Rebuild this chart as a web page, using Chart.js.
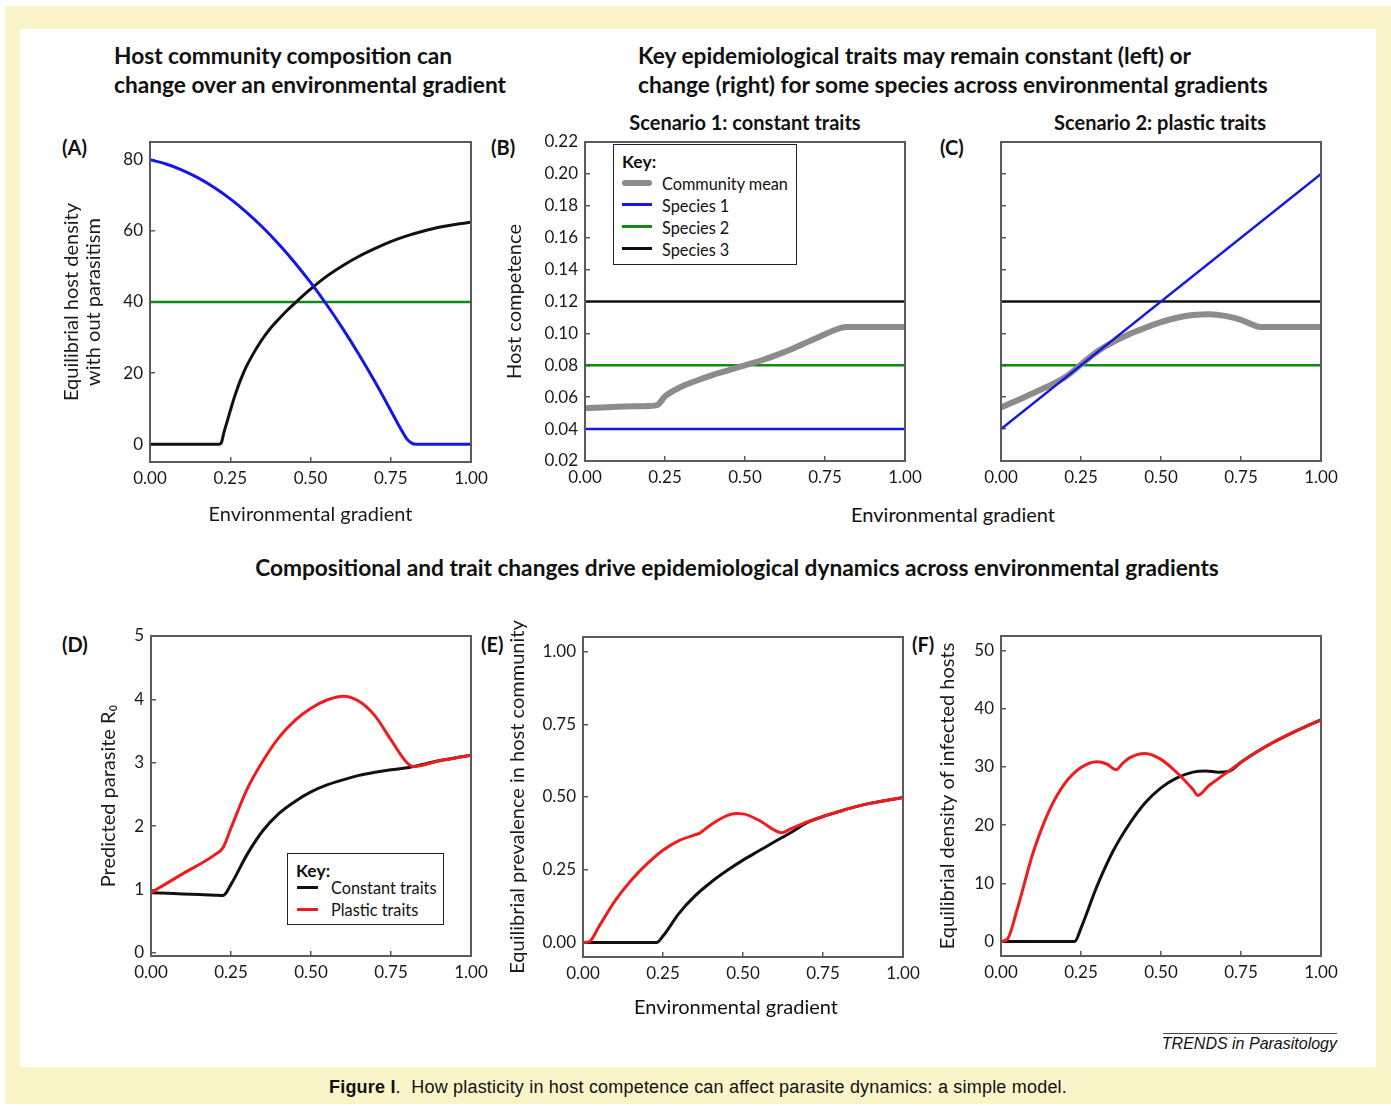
<!DOCTYPE html>
<html>
<head>
<meta charset="utf-8">
<title>Host competence plasticity</title>
<script src="https://cdn.jsdelivr.net/npm/chart.js@4.4.1/dist/chart.umd.min.js"></script>
<style>
    html, body { margin: 0; padding: 0; background: #fff; }
    #page { position: relative; width: 1391px; height: 1106px; overflow: hidden; font-family: Lato, "Open Sans", sans-serif; color: #111; }
    #frame { position: absolute; left: 5px; top: 6px; width: 1386px; height: 1098px; background: #faf5c8; }
    #inner { position: absolute; left: 20px; top: 29px; width: 1356px; height: 1038px; background: #fff; }
    canvas { position: absolute; }
    .t { position: absolute; white-space: nowrap; }
    .head { font-weight: 700; font-size: 22.7px; line-height: 29px; }
    .mid { transform: translate(-50%, -50%); }
    .vmid { transform: translateY(-50%); }
    .sub { font-weight: 700; font-size: 20px; }
    .xtitle { font-size: 20px; }
    .legend { position: absolute; border: 1.5px solid #222; background: #fff; }
    .legend .key { position: absolute; font-weight: 700; font-size: 17.5px; transform: translateY(-50%); }
    .legend .row { position: absolute; font-size: 16.3px; transform: translateY(-50%); white-space: nowrap; }
    .legend .swatch { position: absolute; }
    #caption { font-family: "Liberation Sans", Arial, sans-serif; font-size: 18px; letter-spacing: 0.2px; }
    #trends { font-family: "Liberation Sans", Arial, sans-serif; font-style: italic; font-size: 16px; }
</style>
</head>
<body>
<div id="page">
    <div id="frame"></div>
    <div id="inner"></div>

    <div class="t head" style="left:114px; top:41px;">Host community composition can<br>change over an environmental gradient</div>
    <div class="t head" style="left:638px; top:41px;">Key epidemiological traits may remain constant (left) or<br>change (right) for some species across environmental gradients</div>
    <div class="t head mid" style="left:737px; top:567px;">Compositional and trait changes drive epidemiological dynamics across environmental gradients</div>

    <div class="t sub mid" style="left:745px; top:122px;">Scenario 1: constant traits</div>
    <div class="t sub mid" style="left:1160px; top:122px;">Scenario 2: plastic traits</div>

    <div class="t sub vmid" style="left:62px; top:147px;">(A)</div>
    <div class="t sub vmid" style="left:491px; top:147px;">(B)</div>
    <div class="t sub vmid" style="left:940px; top:147px;">(C)</div>
    <div class="t sub vmid" style="left:62px; top:644px;">(D)</div>
    <div class="t sub vmid" style="left:481px; top:644px;">(E)</div>
    <div class="t sub vmid" style="left:912px; top:644px;">(F)</div>

    <canvas id="chartA"></canvas>
    <canvas id="chartB"></canvas>
    <canvas id="chartC"></canvas>
    <canvas id="chartD"></canvas>
    <canvas id="chartE"></canvas>
    <canvas id="chartF"></canvas>

    <div class="t xtitle mid" style="left:953px; top:514px;">Environmental gradient</div>
    <div class="t xtitle mid" style="left:736px; top:1006px;">Environmental gradient</div>

    <div class="legend" style="left:613px; top:144px; width:182px; height:119px;">
        <div class="key" style="left:8px; top:16px;">Key:</div>
        <div class="swatch" style="left:8px; top:35px; width:30px; height:6px; background:#8c8c8c; border-radius:3px;"></div>
        <div class="row" style="left:48px; top:38px;">Community mean</div>
        <div class="swatch" style="left:8px; top:58px; width:30px; height:2.5px; background:#1515e6;"></div>
        <div class="row" style="left:48px; top:60px;">Species 1</div>
        <div class="swatch" style="left:8px; top:80px; width:30px; height:2.5px; background:#128a12;"></div>
        <div class="row" style="left:48px; top:82px;">Species 2</div>
        <div class="swatch" style="left:8px; top:102px; width:30px; height:2.5px; background:#111;"></div>
        <div class="row" style="left:48px; top:104px;">Species 3</div>
    </div>

    <div class="legend" style="left:287px; top:853px; width:155px; height:70px;">
        <div class="key" style="left:8px; top:16px;">Key:</div>
        <div class="swatch" style="left:9px; top:32px; width:21px; height:3px; background:#111;"></div>
        <div class="row" style="left:43px; top:33px;">Constant traits</div>
        <div class="swatch" style="left:9px; top:54px; width:21px; height:3px; background:#ee1c1c;"></div>
        <div class="row" style="left:43px; top:55px;">Plastic traits</div>
    </div>

    <div class="t" style="left:1163px; top:1033px; width:174px; height:1px; background:#444;"></div>
    <div class="t" id="trends" style="right:54px; top:1044px; transform: translateY(-50%);">TRENDS in Parasitology</div>
    <div class="t mid" id="caption" style="left:698px; top:1087px;"><b>Figure I</b>.&nbsp; How plasticity in host competence can affect parasite dynamics: a simple model.</div>
</div>

<script>
// ---- data ----
const xTicks = [0, 0.25, 0.5, 0.75, 1];

// (A) equilibrial host density without parasitism
const aTicksY = [0, 20, 40, 60, 80];
const aSpecies1 = [[0, 80], [0.05, 78.8], [0.1, 77.1], [0.15, 74.9], [0.2, 72.2], [0.25, 69], [0.3, 65.3], [0.35, 61.1],
    [0.4, 56.4], [0.45, 51.2], [0.5, 45.5], [0.55, 39.3], [0.6, 32.6], [0.65, 25.4], [0.7, 17.7], [0.75, 9.5],
    [0.78, 4.5], [0.8, 1.5], [0.815, 0.3], [0.83, 0], [1, 0]];
const aSpecies2 = [[0, 40], [1, 40]];
const aSpecies3 = [[0, 0], [0.215, 0], [0.222, 0.4], [0.23, 3.2], [0.24, 6.3], [0.25, 9.4], [0.26, 12.4], [0.27, 15.1],
    [0.28, 17.6], [0.29, 19.8], [0.3, 21.8], [0.32, 25.2], [0.34, 28.2], [0.36, 30.8], [0.38, 33.1], [0.4, 35.1],
    [0.43, 37.9], [0.46, 40.4], [0.5, 43.6], [0.55, 47.2], [0.6, 50.2], [0.65, 52.8], [0.7, 55], [0.75, 57],
    [0.8, 58.6], [0.85, 59.9], [0.9, 61], [0.95, 61.8], [1, 62.4]];

// (B) scenario 1: constant traits
const bTicksY = [0.02, 0.04, 0.06, 0.08, 0.10, 0.12, 0.14, 0.16, 0.18, 0.20, 0.22];
const bMean = [[0, 0.053], [0.1, 0.054], [0.2, 0.0545], [0.225, 0.055], [0.25, 0.0605], [0.3, 0.0665], [0.35, 0.0705],
    [0.4, 0.074], [0.45, 0.077], [0.5, 0.08], [0.55, 0.083], [0.6, 0.0865], [0.65, 0.0905], [0.7, 0.095],
    [0.75, 0.0995], [0.8, 0.1035], [0.82, 0.104], [0.9, 0.104], [1, 0.104]];
const bSpecies1 = [[0, 0.04], [1, 0.04]];
const bSpecies2 = [[0, 0.08], [1, 0.08]];
const bSpecies3 = [[0, 0.12], [1, 0.12]];

// (C) scenario 2: plastic traits
const cMean = [[0, 0.0535], [0.1, 0.0625], [0.2, 0.0725], [0.25, 0.0805], [0.3, 0.0885], [0.35, 0.0945], [0.4, 0.0995],
    [0.45, 0.1035], [0.5, 0.107], [0.55, 0.1098], [0.6, 0.1115], [0.65, 0.112], [0.7, 0.111], [0.75, 0.1085],
    [0.78, 0.106], [0.81, 0.104], [0.9, 0.104], [1, 0.104]];
const cSpecies1 = [[0, 0.04], [1, 0.20]];
const cSpecies2 = [[0, 0.08], [1, 0.08]];
const cSpecies3 = [[0, 0.12], [1, 0.12]];

// (D) predicted parasite R0
const dTicksY = [0, 1, 2, 3, 4, 5];
const dConstant = [[0, 0.95], [0.1, 0.93], [0.2, 0.91], [0.225, 0.905], [0.25, 1.08], [0.3, 1.55], [0.35, 1.93],
    [0.4, 2.2], [0.45, 2.39], [0.5, 2.54], [0.55, 2.65], [0.6, 2.73], [0.65, 2.8], [0.7, 2.85], [0.75, 2.89],
    [0.8, 2.92], [0.82, 2.94], [0.9, 3.03], [1, 3.12]];
const dPlastic = [[0, 0.95], [0.1, 1.25], [0.2, 1.55], [0.225, 1.66], [0.25, 1.97], [0.3, 2.58], [0.35, 3.03],
    [0.4, 3.4], [0.45, 3.67], [0.5, 3.86], [0.55, 3.99], [0.6, 4.05], [0.65, 3.97], [0.7, 3.74], [0.75, 3.36],
    [0.8, 3.0], [0.82, 2.94], [0.9, 3.03], [1, 3.12]];

// (E) equilibrial prevalence
const eTicksY = [0, 0.25, 0.5, 0.75, 1];
const eConstant = [[0, 0], [0.23, 0], [0.25, 0.022], [0.3, 0.1], [0.35, 0.16], [0.4, 0.207], [0.45, 0.247],
    [0.5, 0.283], [0.55, 0.315], [0.6, 0.347], [0.65, 0.378], [0.7, 0.412], [0.75, 0.433], [0.8, 0.45],
    [0.85, 0.466], [0.9, 0.479], [0.95, 0.489], [1, 0.498]];
const ePlastic = [[0, 0], [0.02, 0.003], [0.05, 0.055], [0.1, 0.143], [0.15, 0.213], [0.2, 0.27], [0.25, 0.317],
    [0.3, 0.35], [0.35, 0.37], [0.365, 0.376], [0.4, 0.405], [0.45, 0.436], [0.48, 0.443], [0.5, 0.442],
    [0.55, 0.42], [0.6, 0.385], [0.62, 0.377], [0.65, 0.391], [0.7, 0.414], [0.75, 0.433], [0.8, 0.45],
    [0.85, 0.466], [0.9, 0.479], [0.95, 0.489], [1, 0.498]];

// (F) equilibrial density of infected hosts
const fTicksY = [0, 10, 20, 30, 40, 50];
const fConstant = [[0, 0], [0.23, 0], [0.25, 2.3], [0.3, 9.5], [0.35, 15.5], [0.4, 20.1], [0.45, 23.8], [0.5, 26.4],
    [0.55, 28.1], [0.6, 29.1], [0.64, 29.3], [0.68, 29.1], [0.71, 29.2], [0.75, 30.8], [0.8, 32.6], [0.85, 34.2],
    [0.9, 35.6], [0.95, 36.9], [1, 38.1]];
const fPlastic = [[0, 0], [0.02, 0.4], [0.05, 5.4], [0.1, 15.2], [0.15, 22.4], [0.2, 27.2], [0.25, 29.9],
    [0.3, 30.9], [0.33, 30.5], [0.36, 29.5], [0.38, 30.6], [0.4, 31.5], [0.45, 32.3], [0.5, 31.3], [0.55, 29],
    [0.6, 26.1], [0.615, 25.1], [0.65, 26.8], [0.7, 28.8], [0.75, 30.8], [0.8, 32.6], [0.85, 34.2], [0.9, 35.6],
    [0.95, 36.9], [1, 38.1]];

// ---- styling ----
const BLUE = '#1515e6';
const GREEN = '#128a12';
const BLACK = '#111111';
const GREY = '#8c8c8c';
const RED = '#ee1c1c';
const AXIS = '#5a5a5a';
const FONT = 'Lato, "Open Sans", sans-serif';

// frame around the plotting area
const boxPlugin = {
    id: 'box',
    afterDraw(chart) {
        const { ctx, chartArea: a } = chart;
        ctx.save();
        ctx.strokeStyle = AXIS;
        ctx.lineWidth = 2;
        ctx.strokeRect(a.left, a.top, a.right - a.left, a.bottom - a.top);
        ctx.restore();
    }
};

function series(points, color, width) {
    return {
        data: points.map(([x, y]) => ({ x, y })),
        borderColor: color,
        borderWidth: width,
        pointRadius: 0,
        fill: false,
        cubicInterpolationMode: 'monotone'
    };
}

// box = plot area edges on the page; pad = room around it inside the canvas
function makePanel(id, box, pad, cfg) {
    const canvas = document.getElementById(id);
    const w = (box.right - box.left) + pad.left + pad.right;
    const h = (box.bottom - box.top) + pad.top + pad.bottom;
    canvas.width = w;
    canvas.height = h;
    canvas.style.left = (box.left - pad.left) + 'px';
    canvas.style.top = (box.top - pad.top) + 'px';
    canvas.style.width = w + 'px';
    canvas.style.height = h + 'px';

    return new Chart(canvas.getContext('2d'), {
        type: 'line',
        data: { datasets: cfg.datasets },
        plugins: [boxPlugin],
        options: {
            responsive: false,
            animation: false,
            devicePixelRatio: 1,
            events: [],
            layout: { padding: { left: 0, top: pad.top, right: pad.right, bottom: 0 } },
            plugins: { legend: { display: false }, tooltip: { enabled: false } },
            scales: {
                x: {
                    type: 'linear',
                    min: 0,
                    max: 1,
                    afterBuildTicks: s => { s.ticks = xTicks.map(v => ({ value: v })); },
                    afterFit: s => { s.height = pad.bottom; s.paddingLeft = 0; s.paddingRight = 0; },
                    border: { display: false },
                    grid: { drawOnChartArea: false, tickLength: -5, color: AXIS, lineWidth: 1.5 },
                    ticks: {
                        padding: 11,
                        color: '#1a1a1a',
                        font: { family: FONT, size: 17 },
                        maxRotation: 0,
                        autoSkip: false,
                        callback: v => v.toFixed(2)
                    },
                    title: cfg.xTitle ? {
                        display: true,
                        text: cfg.xTitle,
                        color: '#1a1a1a',
                        font: { family: FONT, size: 20 },
                        padding: { top: 0, bottom: cfg.xTitlePad }
                    } : { display: false }
                },
                y: {
                    type: 'linear',
                    min: cfg.yMin,
                    max: cfg.yMax,
                    afterBuildTicks: s => { s.ticks = cfg.yTicks.map(v => ({ value: v })); },
                    afterFit: s => { s.width = pad.left; s.paddingTop = 0; s.paddingBottom = 0; },
                    border: { display: false },
                    grid: { drawOnChartArea: false, tickLength: -5, color: AXIS, lineWidth: 1.5 },
                    ticks: {
                        display: cfg.yLabels !== false,
                        padding: 12,
                        color: '#1a1a1a',
                        font: { family: FONT, size: 17 },
                        callback: cfg.yFormat
                    },
                    title: cfg.yTitle ? {
                        display: true,
                        text: cfg.yTitle,
                        color: '#1a1a1a',
                        font: { family: FONT, size: 20, lineHeight: 1.1 },
                        padding: { top: cfg.yTitlePad, bottom: 0 }
                    } : { display: false }
                }
            }
        }
    });
}

makePanel('chartA', { left: 150, right: 471, top: 142, bottom: 462 }, { left: 100, right: 25, top: 10, bottom: 66 }, {
    yMin: -5, yMax: 85, yTicks: aTicksY, yFormat: v => String(v),
    yTitle: ['Equilibrial host density', 'with out parasitism'], yTitlePad: 11,
    xTitle: 'Environmental gradient', xTitlePad: 1,
    datasets: [series(aSpecies1, BLUE, 3), series(aSpecies3, BLACK, 3), series(aSpecies2, GREEN, 2.5)]
});

makePanel('chartB', { left: 585, right: 905, top: 142, bottom: 461 }, { left: 100, right: 25, top: 10, bottom: 35 }, {
    yMin: 0.02, yMax: 0.22, yTicks: bTicksY, yFormat: v => v.toFixed(2),
    yTitle: 'Host competence', yTitlePad: 19,
    datasets: [series(bMean, GREY, 6), series(bSpecies3, BLACK, 2.5), series(bSpecies2, GREEN, 2.5), series(bSpecies1, BLUE, 2.5)]
});

makePanel('chartC', { left: 1001, right: 1321, top: 142, bottom: 461 }, { left: 60, right: 25, top: 10, bottom: 35 }, {
    yMin: 0.02, yMax: 0.22, yTicks: bTicksY, yFormat: v => v.toFixed(2), yLabels: false,
    datasets: [series(cSpecies1, BLUE, 2.5), series(cMean, GREY, 6), series(cSpecies3, BLACK, 2.5), series(cSpecies2, GREEN, 2.5)]
});

makePanel('chartD', { left: 151, right: 471, top: 636, bottom: 956 }, { left: 100, right: 25, top: 30, bottom: 40 }, {
    yMin: -0.05, yMax: 5, yTicks: dTicksY, yFormat: v => String(v),
    yTitle: 'Predicted parasite R\u2080', yTitlePad: 47,
    datasets: [series(dPlastic, RED, 3), series(dConstant, BLACK, 3)]
});

makePanel('chartE', { left: 583, right: 903, top: 637, bottom: 957 }, { left: 100, right: 25, top: 30, bottom: 40 }, {
    yMin: -0.05, yMax: 1.05, yTicks: eTicksY, yFormat: v => v.toFixed(2),
    yTitle: 'Equilibrial prevalence in host community', yTitlePad: 24,
    datasets: [series(ePlastic, RED, 3), series(eConstant, BLACK, 3)]
});

makePanel('chartF', { left: 1001, right: 1321, top: 636, bottom: 956 }, { left: 100, right: 25, top: 30, bottom: 40 }, {
    yMin: -2.5, yMax: 52.5, yTicks: fTicksY, yFormat: v => String(v),
    yTitle: 'Equilibrial density of infected hosts', yTitlePad: 36,
    datasets: [series(fPlastic, RED, 3), series(fConstant, BLACK, 3)]
});
</script>
</body>
</html>
